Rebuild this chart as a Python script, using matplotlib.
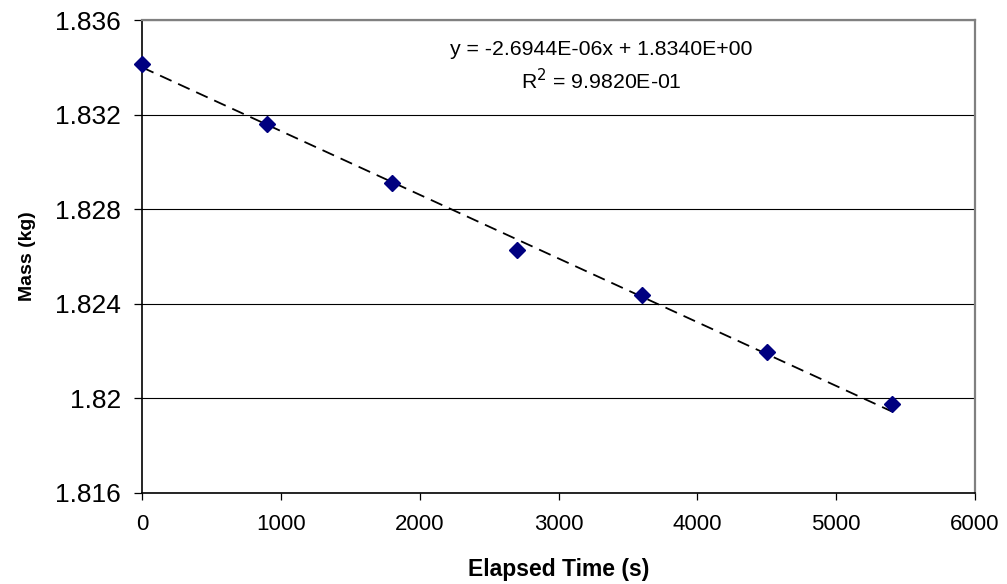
import numpy as np
import matplotlib
matplotlib.use("Agg")
import matplotlib.pyplot as plt

plt.rcParams['font.family'] = ['Liberation Sans', 'DejaVu Sans']

# Measured mass during drying
elapsed_s = [0, 900, 1800, 2700, 3600, 4500, 5400]
mass_kg = [1.83416, 1.83159, 1.82910, 1.82627, 1.82437, 1.82195, 1.81975]

# Linear trendline coefficients (as reported)
slope = -2.6944e-06
intercept = 1.8340
r_squared = 0.99820

x_ticks = [0, 1000, 2000, 3000, 4000, 5000, 6000]
y_ticks = [1.816, 1.82, 1.824, 1.828, 1.832, 1.836]
y_tick_labels = ['1.816', '1.82', '1.824', '1.828', '1.832', '1.836']

fig = plt.figure(figsize=(10.07, 5.84), dpi=100)
ax = fig.add_axes([142 / 1007, 1 - 493 / 584, (975 - 142) / 1007, (493 - 20) / 584])

ax.set_xlim(0, 6000)
ax.set_ylim(1.816, 1.836)
ax.set_xticks(x_ticks)
ax.set_yticks(y_ticks)
ax.set_yticklabels(y_tick_labels)

ax.yaxis.grid(True, color='black', linewidth=0.8)
ax.set_axisbelow(True)

# Trendline over the data range
trend_x = np.array([elapsed_s[0], elapsed_s[-1]])
trend_y = slope * trend_x + intercept
ax.plot(trend_x, trend_y, color='black', linewidth=1.3,
        linestyle=(0, (7, 4)), zorder=3)

ax.plot(elapsed_s, mass_kg, linestyle='none', marker='D', markersize=8,
        color='#000080', markeredgecolor='#000080', zorder=4, clip_on=False)

for side in ('left', 'bottom'):
    ax.spines[side].set_color('black')
    ax.spines[side].set_linewidth(1.2)
for side in ('top', 'right'):
    ax.spines[side].set_color('#808080')
    ax.spines[side].set_linewidth(1.6)

ax.tick_params(axis='y', direction='out', length=6, width=0.9, pad=9,
               labelsize=19)
ax.tick_params(axis='x', direction='out', length=5, width=0.9, pad=10,
               labelsize=16)

ax.set_xlabel('Elapsed Time (s)', fontsize=16.5, fontweight='bold', labelpad=17)
ax.set_ylabel('Mass (kg)', fontsize=14, fontweight='bold', labelpad=14)

ax.text(0.551, 0.938, 'y = -2.6944E-06x + 1.8340E+00', transform=ax.transAxes,
        ha='center', va='center', fontsize=15.3)
ax.text(0.551, 0.871, 'R$^2$ = %.4E' % r_squared, transform=ax.transAxes,
        ha='center', va='center', fontsize=15.3)

fig.savefig('out.png', dpi=100, facecolor='white')
